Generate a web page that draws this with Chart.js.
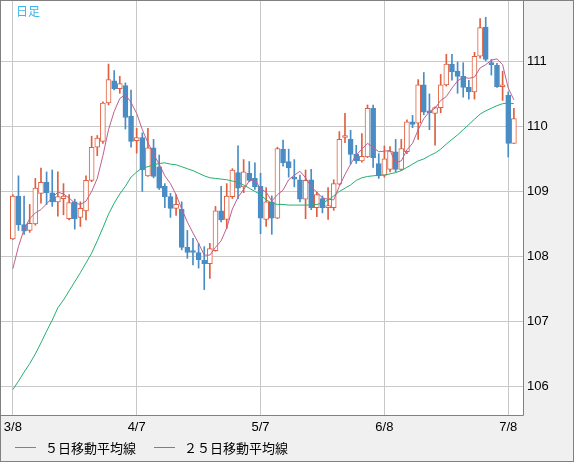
<!DOCTYPE html>
<html lang="ja">
<head>
<meta charset="utf-8">
<title>日足</title>
<script src="https://cdn.jsdelivr.net/npm/chart.js@4.4.1/dist/chart.umd.min.js"></script>
<style>
  html, body { margin: 0; padding: 0; background: #f0f0f0; }
  #wrap { position: relative; width: 574px; height: 462px; }
  #chart { display: block; }
  #period { position: absolute; left: 16px; top: 2px; font: 12px "Noto Sans CJK JP", sans-serif; color: #3cb4ec; }
  #legend { position: absolute; left: 15px; top: 438px; display: flex; font: 13px "Noto Sans CJK JP", sans-serif; color: #000; }
  .item { display: flex; align-items: center; margin-right: 18px; }
  .swatch { width: 21px; height: 1px; margin-right: 9px; }
</style>
</head>
<body>
<div id="wrap">
  <canvas id="chart" width="574" height="462"></canvas>
  <div id="period">日足</div>
  <div id="legend"></div>
</div>
<script>
const dates = [
  '3/8','3/9','3/10','3/11','3/12','3/15','3/16','3/17','3/18','3/19','3/22','3/23','3/24','3/25','3/26','3/29','3/30','3/31',
  '4/1','4/2','4/5','4/6','4/7','4/8','4/9','4/12','4/13','4/14','4/15','4/16','4/19','4/20','4/21','4/22','4/23','4/26','4/27','4/28','4/29','4/30',
  '5/3','5/4','5/5','5/6','5/7','5/10','5/11','5/12','5/13','5/14','5/17','5/18','5/19','5/20','5/21','5/24','5/25','5/26','5/27','5/28','5/31',
  '6/1','6/2','6/3','6/4','6/7','6/8','6/9','6/10','6/11','6/14','6/15','6/16','6/17','6/18','6/21','6/22','6/23','6/24','6/25','6/28','6/29','6/30',
  '7/1','7/2','7/5','7/6','7/7','7/8','7/9'
];
const xTickLabels = ['3/8', '4/7', '5/7', '6/8', '7/8'];
const yTicks = [106, 107, 108, 109, 110, 111];
const seriesNames = ['５日移動平均線', '２５日移動平均線'];

const opens = [
  108.27, 108.93, 108.49, 108.40, 108.50, 108.97, 109.14, 108.98, 108.84, 108.89,
  108.58, 108.84, 108.60, 108.70, 109.17, 109.68, 109.77, 110.36, 110.70, 110.58,
  110.63, 110.16, 109.78, 109.83, 109.24, 109.67, 109.38, 109.08, 108.92, 108.74,
  108.73, 108.14, 108.08, 108.06, 107.94, 107.89, 108.09, 108.70, 108.57, 108.92,
  109.29, 109.07, 109.28, 109.20, 109.08, 108.57, 108.84, 108.59, 109.65, 109.46,
  109.22, 109.18, 108.88, 109.18, 108.75, 108.89, 108.75, 108.75, 109.11, 109.83,
  109.80, 109.57, 109.47, 109.53, 110.28, 109.43, 109.25, 109.34, 109.61, 109.34,
  109.61, 110.07, 110.05, 110.64, 110.24, 110.20, 110.29, 110.64, 110.96, 110.85,
  110.77, 110.60, 110.53, 111.08, 111.53, 110.98, 110.94, 110.61, 110.48, 109.74
];
const highs = [
  108.95, 109.24, 108.93, 108.80, 109.20, 109.36, 109.30, 109.33, 109.30, 109.12,
  108.95, 108.88, 108.84, 109.24, 109.85, 109.86, 110.38, 110.96, 110.86, 110.77,
  110.67, 110.56, 109.97, 109.90, 109.97, 109.80, 109.56, 109.12, 108.97, 108.95,
  108.84, 108.40, 108.28, 108.20, 108.15, 108.20, 108.77, 109.08, 109.12, 109.35,
  109.70, 109.49, 109.46, 109.44, 109.28, 109.06, 108.93, 109.68, 109.79, 109.65,
  109.49, 109.25, 109.33, 109.34, 108.99, 108.93, 109.06, 109.18, 109.92, 110.20,
  109.94, 109.71, 109.89, 110.33, 110.33, 109.58, 109.70, 109.69, 109.80, 109.80,
  110.10, 110.17, 110.72, 110.83, 110.50, 110.30, 110.80, 111.11, 111.11, 110.99,
  110.98, 110.71, 111.14, 111.66, 111.68, 111.03, 110.97, 110.85, 110.53, 110.28
];
const lows = [
  108.26, 108.40, 108.34, 108.37, 108.48, 108.82, 108.80, 108.77, 108.62, 108.64,
  108.56, 108.42, 108.46, 108.56, 109.15, 109.55, 109.74, 110.33, 110.56, 110.51,
  109.96, 109.68, 109.59, 109.00, 109.23, 109.21, 109.03, 108.75, 108.60, 108.63,
  108.10, 107.97, 107.87, 107.82, 107.49, 107.66, 108.08, 108.53, 108.43, 108.89,
  108.89, 108.98, 109.15, 109.03, 108.35, 108.46, 108.34, 108.58, 109.39, 109.22,
  109.07, 108.84, 108.58, 108.72, 108.61, 108.67, 108.57, 108.71, 109.10, 109.75,
  109.42, 109.43, 109.45, 109.52, 109.37, 109.20, 109.22, 109.30, 109.30, 109.32,
  109.58, 109.98, 109.80, 110.18, 109.95, 109.71, 110.21, 110.62, 110.71, 110.51,
  110.45, 110.42, 110.42, 111.05, 111.01, 110.79, 110.60, 110.40, 109.53, 109.74
];
const closes = [
  108.93, 108.49, 108.39, 108.51, 109.05, 109.14, 108.98, 108.84, 108.92, 108.93,
  108.83, 108.58, 108.74, 109.17, 109.68, 109.82, 110.36, 110.72, 110.58, 110.66,
  110.14, 109.77, 109.83, 109.33, 109.67, 109.23, 109.05, 108.92, 108.74, 108.80,
  108.14, 108.06, 108.06, 107.95, 107.89, 108.12, 108.70, 108.56, 108.93, 109.33,
  109.05, 109.30, 109.17, 109.07, 108.59, 108.84, 108.59, 109.66, 109.44, 109.36,
  109.19, 108.88, 109.17, 108.75, 108.95, 108.75, 108.77, 109.12, 109.80, 109.85,
  109.57, 109.47, 109.54, 110.28, 109.52, 109.24, 109.50, 109.62, 109.34, 109.66,
  110.07, 110.03, 110.64, 110.22, 110.21, 110.29, 110.64, 110.96, 110.84, 110.77,
  110.60, 110.53, 111.08, 111.52, 111.03, 110.95, 110.61, 110.63, 109.74, 110.12
];
const ma5 = [
  107.81, 108.15, 108.42, 108.58, 108.67, 108.72, 108.81, 108.90, 108.99, 108.96,
  108.90, 108.82, 108.80, 108.85, 109.00, 109.20, 109.55, 109.95, 110.23, 110.43,
  110.49, 110.37, 110.20, 109.95, 109.75, 109.57, 109.42, 109.24, 109.12, 108.95,
  108.73, 108.53, 108.36, 108.20, 108.02, 108.02, 108.14, 108.24, 108.44, 108.73,
  108.91, 109.03, 109.16, 109.18, 109.04, 108.99, 108.85, 108.95, 109.02, 109.18,
  109.25, 109.31, 109.21, 109.07, 108.99, 108.90, 108.88, 108.87, 109.08, 109.26,
  109.42, 109.56, 109.65, 109.74, 109.68, 109.61, 109.62, 109.63, 109.44, 109.47,
  109.64, 109.74, 109.95, 110.12, 110.23, 110.28, 110.40, 110.46, 110.59, 110.70,
  110.76, 110.74, 110.76, 110.90, 110.95, 111.02, 111.04, 110.95, 110.59, 110.41
];
const ma25 = [
  105.95, 106.08, 106.22, 106.35, 106.50, 106.67, 106.85, 107.02, 107.21, 107.33,
  107.47, 107.61, 107.75, 107.90, 108.05, 108.24, 108.44, 108.65, 108.82, 108.96,
  109.08, 109.22, 109.30, 109.36, 109.38, 109.41, 109.43, 109.44, 109.42, 109.41,
  109.38, 109.35, 109.32, 109.28, 109.24, 109.21, 109.20, 109.19, 109.18, 109.16,
  109.14, 109.10, 109.05, 109.00, 108.95, 108.87, 108.82, 108.80, 108.80, 108.79,
  108.79, 108.79, 108.79, 108.79, 108.80, 108.82, 108.87, 108.93, 109.00, 109.05,
  109.10, 109.17, 109.21, 109.23, 109.24, 109.25, 109.25, 109.27, 109.29, 109.32,
  109.37, 109.42, 109.47, 109.50, 109.55, 109.59, 109.65, 109.73, 109.80, 109.87,
  109.95, 110.03, 110.11, 110.19, 110.24, 110.28, 110.32, 110.35, 110.36, 110.35
];

const UP = '#de6040';
const DOWN = '#4a8cc4';
const MA5_COLOR = '#c0608e';
const MA25_COLOR = '#24b070';
const GRID = '#c8c8c8';
const FRAME = '#808080';

const isUp = i => closes[i] >= opens[i];
const xTicks = xTickLabels.map(l => dates.indexOf(l));

const frame = {
  id: 'frame',
  beforeDraw(chart) {
    const { ctx, chartArea: a, width, height } = chart;
    ctx.save();
    ctx.fillStyle = '#f0f0f0';
    ctx.fillRect(0, 0, width, height);
    ctx.fillStyle = '#ffffff';
    ctx.fillRect(a.left, a.top, a.right - a.left, a.bottom - a.top);
    ctx.restore();
  },
  afterDraw(chart) {
    const { ctx, chartArea: a, width, height } = chart;
    ctx.save();
    ctx.strokeStyle = FRAME;
    ctx.lineWidth = 1;
    ctx.beginPath();
    ctx.moveTo(Math.round(a.right) + 0.5, 0);
    ctx.lineTo(Math.round(a.right) + 0.5, Math.round(a.bottom) + 0.5);
    ctx.lineTo(0, Math.round(a.bottom) + 0.5);
    ctx.stroke();
    ctx.strokeRect(0.5, 0.5, width - 1, height - 1);
    ctx.restore();
  }
};

new Chart(document.getElementById('chart'), {
  type: 'bar',
  data: {
    datasets: [
      {
        label: 'wick',
        data: dates.map((d, i) => ({ x: i, y: [lows[i], highs[i]] })),
        backgroundColor: c => isUp(c.dataIndex) ? UP : DOWN,
        barThickness: 1,
        grouped: false,
        order: 3
      },
      {
        label: 'body',
        data: dates.map((d, i) => ({ x: i, y: [opens[i], closes[i]] })),
        backgroundColor: c => isUp(c.dataIndex) ? '#ffffff' : DOWN,
        borderColor: c => isUp(c.dataIndex) ? UP : DOWN,
        borderWidth: 1,
        borderSkipped: false,
        minBarLength: 2,
        barThickness: 5,
        grouped: false,
        order: 2
      },
      {
        type: 'line',
        label: seriesNames[0],
        data: ma5.map((v, i) => ({ x: i, y: v })),
        borderColor: MA5_COLOR,
        borderWidth: 1,
        pointRadius: 0,
        tension: 0,
        order: 1
      },
      {
        type: 'line',
        label: seriesNames[1],
        data: ma25.map((v, i) => ({ x: i, y: v })),
        borderColor: MA25_COLOR,
        borderWidth: 1,
        pointRadius: 0,
        tension: 0,
        order: 1
      }
    ]
  },
  options: {
    responsive: false,
    animation: false,
    layout: { padding: { left: 1, top: 1, right: 0, bottom: 0 } },
    plugins: {
      legend: { display: false },
      tooltip: { enabled: false }
    },
    scales: {
      x: {
        type: 'linear',
        offset: false,
        min: -2.1,
        max: 90.62,
        grid: { color: GRID, drawTicks: false, offset: false },
        border: { display: false },
        afterBuildTicks: s => { s.ticks = xTicks.map(v => ({ value: v })); },
        afterFit: s => { s.height = 47; s.paddingLeft = 0; s.paddingRight = 0; },
        ticks: {
          autoSkip: false,
          maxRotation: 0,
          padding: 5,
          color: '#000',
          font: { family: 'Liberation Sans', size: 13 },
          callback: v => dates[v]
        }
      },
      y: {
        position: 'right',
        min: 105.56,
        max: 111.93,
        grid: { color: GRID, drawTicks: false },
        border: { display: false },
        afterBuildTicks: s => { s.ticks = yTicks.map(v => ({ value: v })); },
        afterFit: s => { s.width = 51; s.paddingTop = 0; s.paddingBottom = 0; },
        ticks: {
          padding: 4,
          color: '#000',
          font: { family: 'Liberation Sans', size: 13 }
        }
      }
    }
  },
  plugins: [frame]
});

const legend = document.getElementById('legend');
[MA5_COLOR, MA25_COLOR].forEach((color, k) => {
  const item = document.createElement('div');
  item.className = 'item';
  item.innerHTML = `<span class="swatch" style="background:${color}"></span><span>${seriesNames[k]}</span>`;
  legend.appendChild(item);
});
</script>
</body>
</html>
